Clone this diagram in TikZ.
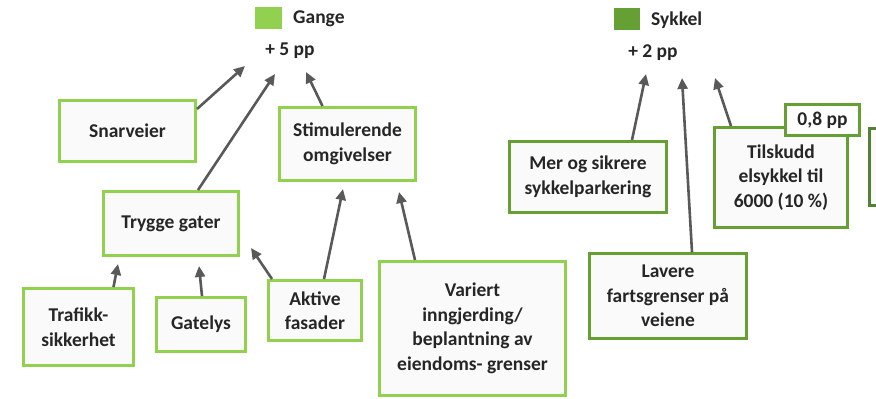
\documentclass[tikz,border=0pt]{standalone}
\usepackage{fontspec}
\setmainfont{Carlito}
\usetikzlibrary{arrows.meta,calc}
\definecolor{walkgreen}{HTML}{92D050}
\definecolor{bikegreen}{HTML}{66A035}
\definecolor{darkbike}{HTML}{548235}
\definecolor{boxfill}{HTML}{FAFAFA}
\definecolor{txt}{HTML}{262626}
\definecolor{arrowgray}{HTML}{595959}
\tikzset{
  base/.style={font=\bfseries\fontsize{19.5}{24.5}\selectfont, text=txt, align=center, inner sep=0pt, line width=3pt, fill=boxfill},
  walkbox/.style={base, draw=walkgreen},
  bikebox/.style={base, draw=bikegreen},
  lbl/.style={font=\bfseries\fontsize{19.5}{24.5}\selectfont, text=txt, inner sep=0pt},
  conn/.style={draw=arrowgray, line width=2.6pt, -{Triangle[length=11pt,width=10pt]}}
}
\begin{document}
\begin{tikzpicture}[x=1pt,y=-1pt]
\useasboundingbox (0,0) rectangle (876,399);
\fill[white] (0,0) rectangle (876,399);

% legends
\node[fill=walkgreen, minimum width=27pt, minimum height=22pt, inner sep=0pt] (gsq) at (268.5,18) {};
\node[lbl, anchor=west] (gange) at (293,19) {Gange};
\node[lbl] (g5) at (290,51) {+ 5 pp};
\node[fill=bikegreen, minimum width=26pt, minimum height=22pt, inner sep=0pt] (ssq) at (627,19) {};
\node[lbl, anchor=west] (sykkel) at (651,20) {Sykkel};
\node[lbl] (s2) at (653,53) {+ 2 pp};

% arrow tips
\coordinate (tA) at (245,66);
\coordinate (tB) at (275,74);
\coordinate (tC) at (306,72);
\coordinate (tD) at (118,264);
\coordinate (tE) at (199,266);
\coordinate (tF) at (251,248);
\coordinate (tG) at (343,189);
\coordinate (tH) at (399,192);
\coordinate (tI) at (646,74);
\coordinate (tJ) at (682,78);
\coordinate (tK) at (715,78);

% walking boxes
\node[walkbox, minimum width=136pt, minimum height=61pt] (snar) at (127.5,131) {Snarveier};
\node[walkbox, minimum width=136pt, minimum height=73pt] (stim) at (347.5,144) {Stimulerende\\omgivelser};
\node[walkbox, minimum width=135pt, minimum height=64pt] (trygge) at (171,223.5) {Trygge gater};
\node[walkbox, minimum width=110pt, minimum height=77pt] (trafikk) at (78.5,327) {Trafikk-\\sikkerhet};
\node[walkbox, minimum width=89pt, minimum height=54pt] (gatelys) at (201,324.5) {Gatelys};
\node[walkbox, minimum width=93pt, minimum height=60pt] (aktive) at (315,310.5) {Aktive\\fasader};
\node[walkbox, minimum width=186pt, minimum height=134pt] (variert) at (472.5,328.5) {Variert\\inngjerding/\\beplantning av\\eiendoms- grenser};

% bike boxes
\node[bikebox, minimum width=157pt, minimum height=71pt] (mer) at (588,177) {Mer og sikrere\\sykkelparkering};
\node[bikebox, minimum width=133pt, minimum height=100pt] (tilsk) at (781,177.5) {Tilskudd\\elsykkel til\\6000 (10 \%)};
\node[bikebox, minimum width=74pt, minimum height=31pt, fill=white] (pp08) at (822.5,120) {0,8 pp};
\node[bikebox, minimum width=157pt, minimum height=85pt] (lavere) at (668,296) {Lavere\\fartsgrenser på\\veiene};

% partially visible box at right edge
\begin{scope}
\clip (0,0) rectangle (876,399);
\node[base, draw=darkbike, minimum width=60pt, minimum height=77pt] (edge) at (899.5,167) {};
\end{scope}

% connectors
\draw[conn] ($(snar.north east)+(0,10)$) -- (tA);
\draw[conn] ($(trygge.north)+(27,0)$) -- (tB);
\draw[conn] ($(stim.north)+(-25,0)$) -- (tC);
\draw[conn] ($(trafikk.north)+(35,0)$) -- (tD);
\draw[conn] ($(gatelys.north)+(1,0)$) -- (tE);
\draw[conn] ($(aktive.north west)+(5,0)$) -- (tF);
\draw[conn] ($(aktive.north)+(9,0)$) -- (tG);
\draw[conn] ($(variert.north)+(-57.5,0)$) -- (tH);
\draw[conn] ($(mer.north)+(44,0)$) -- (tI);
\draw[conn] ($(lavere.north)+(24,0)$) -- (tJ);
\draw[conn] ($(tilsk.north)+(-50,0)$) -- (tK);
\end{tikzpicture}
\end{document}
